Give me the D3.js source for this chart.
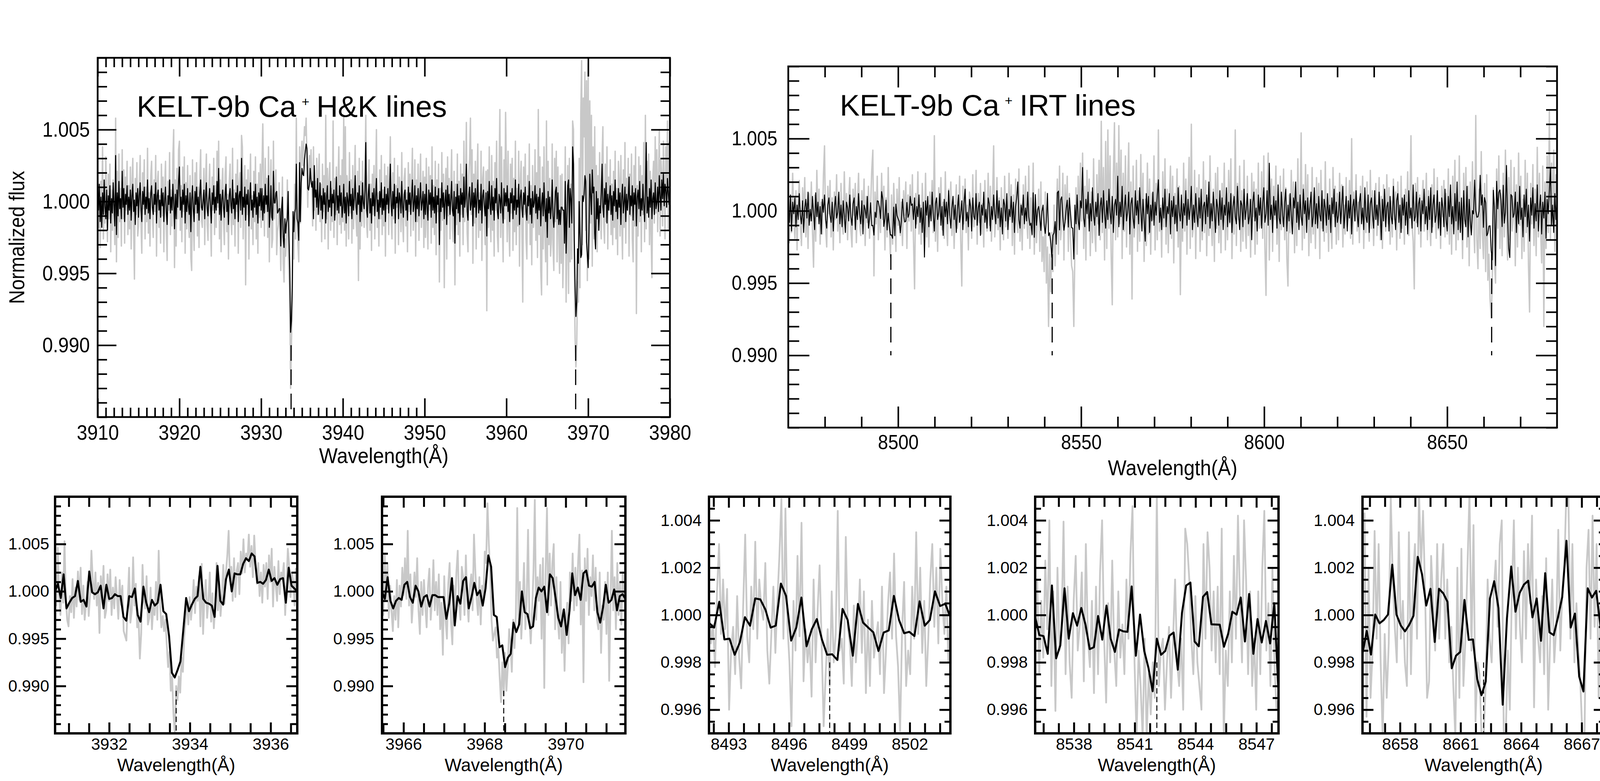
<!DOCTYPE html>
<html><head><meta charset="utf-8">
<script src="https://cdn.jsdelivr.net/npm/d3@7"></script>
<style>
body{margin:0;background:#fff}
svg{display:block}
text{font-family:"Liberation Sans",Arial,Helvetica,sans-serif;fill:#000}
</style></head>
<body><svg id="chart" width="4180" height="2000"></svg>
<script>
// ---------------- DATA (flux deviations from 1, in units of 1e-5) ----------------
const UNIT = 1e-5;
const hkLines = [3933.66, 3968.47];
const irtLines = [8498.02, 8542.09, 8662.14];

// H&K overview 3910-3980 A (evenly sampled over the span)
const hkBlack = [
90,-60,120,-140,30,-180,60,-90,150,-40,-120,80,-200,40,-60,110,-150,20,-80,130,
-30,-170,320,-230,60,-100,140,-50,20,-120,210,-40,90,-140,50,-20,110,-90,30,-60,
80,-130,40,120,-70,10,-160,60,-30,90,-110,40,130,-60,-140,70,-20,100,-90,30,
-50,150,-80,20,-120,60,110,-40,-90,50,-20,130,-150,40,80,-60,10,-110,90,-30,
60,-140,20,100,-70,-160,40,-20,150,-80,30,-60,120,-10,-190,50,-120,80,-40,140,
240,-60,30,-110,80,-20,120,-150,40,-70,90,-30,-90,60,-210,20,110,-50,-140,70,
-20,100,-80,30,-130,60,150,-40,-60,10,80,-120,40,130,-50,-100,20,90,-30,-150,
60,-20,110,-80,30,-60,140,-10,230,-90,50,-130,20,80,-40,-110,60,120,-70,10,
-160,40,90,-30,-80,150,-50,20,-120,60,-20,110,-140,40,70,-60,300,-90,30,-40,
100,-130,50,-20,80,-170,20,130,-60,10,-110,70,-40,120,-90,30,-150,60,-30,90,
-60,90,-130,40,-80,120,-20,
40,-70,180,-180,-70,110,-110,-130,210,-10,-10,60,70,-80,-70,-50,-50,-310,-50,30,
-250,-320,-120,-220,-150,-120,70,-240,-470,-910,-830,-600,-70,-210,-80,-50,260,-120,-150,-270,
270,-140,130,230,190,180,290,350,400,370,90,80,120,230,140,100,140,-120,250,30,
80,-40,160,-90,20,130,-60,40,-120,90,-20,60,-150,30,110,-70,10,-40,140,-100,
50,-10,80,-130,20,170,-60,40,-80,110,-30,60,-110,
-40,120,-80,30,-150,60,10,-100,140,-30,50,-120,90,-60,20,180,-40,-90,60,-20,
110,-140,40,-70,130,-10,-50,80,410,-60,-110,50,120,-80,20,-150,60,-30,90,-100,
40,160,-70,10,-120,70,-40,130,-90,20,-60,100,-140,50,-20,90,-80,40,260,-30,
-100,70,-50,120,-150,30,-10,90,-120,60,20,-80,140,-40,-110,50,80,-60,10,-130,
100,-20,60,-90,30,150,-70,-20,110,-140,40,-50,90,-100,20,130,-60,-10,70,-120,
50,-90,120,-40,-130,80,-20,60,-110,150,-60,30,-80,100,-150,40,-20,90,-300,20,
-70,130,-40,60,-120,10,80,-160,110,-30,50,-90,20,140,-60,-100,70,-290,30,-50,
120,-80,40,-140,90,-20,60,-110,170,-40,20,260,-70,-130,50,100,-60,-20,130,-170,
60,-40,90,-110,30,150,-80,10,-60,120,-150,40,80,-30,-100,60,-240,70,-50,140,
-20,-90,110,-60,30,-130,90,-10,160,-70,-120,50,20,-80,130,-40,-150,90,-30,60,
-30,110,-70,20,-140,60,-10,90,-120,40,-60,150,-90,10,-40,120,-160,30,80,-50,
-110,60,-20,100,-70,-130,40,-30,140,-90,20,-150,70,-40,-10,110,-80,50,-120,30,
-60,90,-170,-20,60,-100,130,-50,-140,20,-250,70,-80,30,-120,
-40,150,-100,-180,-70,70,100,-120,60,-160,-60,-160,-40,-40,-60,-60,-290,140,-360,-130,
110,150,-180,90,10,-150,380,260,-270,-590,-800,-700,-330,-430,0,-220,-390,-370,40,0,
50,180,140,-280,-370,
-460,-210,190,40,-90,220,60,100,-220,-330,70,-120,20,-200,-30,
-80,60,260,-40,-110,90,-20,130,-150,50,-60,20,110,-90,40,-130,70,-30,150,-70,
10,-120,90,-40,60,-160,30,120,-80,-10,100,-140,50,-60,20,170,-90,40,-30,110,
-130,60,-20,90,-170,30,80,-50,140,-100,20,-60,120,-30,-140,70,410,-80,30,-110,
90,-40,150,-120,20,60,-90,130,-50,-10,100,-70,180,40,-60,150,20,190,-30,120,
80,-40,160,60,-20,140
];
const hkGrey = [
250,-180,60,-320,140,-90,380,-260,30,-150,310,-40,-280,190,-120,260,-350,80,-200,150,
-60,-300,580,-420,210,-250,330,-140,90,-310,360,-120,220,-290,170,-60,280,-230,110,-190,
240,-330,120,300,-210,-540,160,-90,270,-240,-170,130,320,-150,-360,200,-50,290,-260,100,
-140,370,-220,60,-310,180,280,-110,-250,150,-70,320,-380,120,210,-180,40,-290,260,-100,
170,-350,90,280,-200,-410,140,-60,340,-230,80,-170,300,500,-460,150,-310,230,-120,360,
420,-200,110,-280,240,-70,310,-360,130,-190,250,-100,-250,180,-390,-480,290,-150,-340,200,
-80,270,-240,100,-320,170,360,-130,-180,60,230,-300,140,330,-160,-270,90,260,-120,-380,
170,-60,300,-230,110,-180,350,-40,420,-260,150,-350,80,230,-140,-300,190,310,-210,50,
-400,140,260,-100,-230,370,-160,80,-310,190,-70,290,-360,120,200,-180,460,380,-260,100,
250,-580,150,-90,220,-400,70,330,-190,40,-300,210,-140,310,-260,120,-360,200,-110,260,
-180,240,540,130,-240,300,-70,160,-250,380,-420,70,290,-320,-260,420,-120,80,220,-370,
-210,-160,130,-200,-480,-150,170,-430,-560,-260,-380,-240,150,-330,-520,-700,-1300,-1000,-700,-180,
-400,120,-260,580,-80,-300,-420,380,-150,330,420,250,380,520,460,580,300,-40,250,320,
180,360,120,-170,380,-60,140,-200,300,-90,170,330,-140,120,-280,260,-70,180,-260,600,
-120,230,-330,150,270,-200,90,-140,560,-250,160,-90,240,-300,120,380,-160,180,-220,290,
-140,600,-200,520,-310,180,90,-260,340,-80,150,-290,250,-190,130,390,-120,-240,210,-550,
300,-330,140,-170,280,-40,-180,200,600,-150,-250,170,290,-200,120,-340,190,-90,250,-260,
130,500,-180,60,-310,220,-120,320,-230,80,-170,260,-380,180,-50,240,-230,150,450,-110,
-260,200,-120,300,-360,110,-40,250,-300,170,90,-210,340,-130,-280,160,230,-170,60,-350,
270,-70,190,-240,110,370,-200,-60,290,-380,150,-140,260,-270,80,330,-180,-30,210,-320,
170,-250,300,-120,-330,240,-60,180,-290,380,-180,110,-230,280,-370,150,-70,260,-560,90,
-200,340,-130,190,-600,60,230,-400,310,-100,160,-260,90,360,-190,-280,210,-580,120,-160,
330,-230,140,-380,260,-90,190,-300,420,-140,80,550,-220,-350,180,300,580,-90,360,-430,
190,-150,280,-330,130,400,-250,60,-200,350,-410,160,240,-120,-300,210,-760,220,-180,380,
-90,-280,320,-200,140,-380,270,-60,420,-240,-350,190,640,-250,380,-140,-420,290,-120,620,
220,-280,350,-150,-380,260,-80,300,-340,160,-210,420,-300,90,-170,350,-450,140,280,-220,
-700,240,-90,330,-260,-400,180,-150,400,-300,110,-440,250,-180,-50,360,-270,200,-390,640,
-230,310,-480,-650,240,-330,380,-190,-420,560,-580,280,-300,160,-380,-260,400,-310,-480,300,
-140,350,-420,240,-200,-500,180,-430,190,-600,-320,-170,380,-700,-300,250,-640,300,-420,120,
-400,560,500,-480,-950,-1150,-1000,-560,-700,300,-600,620,980,-300,720,450,900,-200,840,-550,
960,-400,700,-150,600,-450,380,-260,520,-300,250,-350,180,-200,340,-120,-260,300,520,-150,
-290,260,-140,380,-330,170,-60,290,-230,120,-300,210,-180,350,-260,90,-370,280,140,-240,
320,-120,-400,220,-180,410,-290,160,-60,300,-380,190,-100,330,-260,-420,250,-170,380,-780,
110,-240,310,-140,250,-350,180,-90,410,-280,600,-190,280,-60,330,-300,210,-230,-530,160,
280,-150,450,-80,360,-210,130,500,-240,300,180,-170,420,120,-260,380,90,560,-200,410,
300
];

// IRT overview 8470-8680 A
const irtBlack = [
30,-80,110,-140,60,-20,90,-110,40,-60,120,-30,-90,70,-150,20,80,-50,130,-100,
10,-70,100,-20,-130,125,-40,60,-90,30,-160,80,-10,110,-60,-120,40,90,-30,-80,
60,-140,20,100,-50,-10,130,-90,40,-110,70,-30,-150,60,20,-70,110,-40,-100,50,
90,-130,30,-60,120,-20,-90,70,-160,40,10,-50,100,-120,
-53,56,-103,-100,-168,-9,-45,70,66,22,-53,133,81,-108,-53,74,-132,-17,-104,-168,
-166,-190,26,-172,47,-32,-53,-73,-152,-65,81,-21,-77,-71,58,-45,-21,100,38,48,
-60,90,-120,30,-40,110,-80,20,-150,60,-320,70,-30,100,-110,40,-70,130,-20,-140,
50,90,-60,-10,120,-100,30,-170,80,-40,60,-90,140,-30,-120,20,100,-60,40,-150,
10,110,-80,-20,70,-130,50,150,-70,-10,-110,80,30,-140,90,-40,-60,120,-100,20,
60,-170,40,-30,130,-80,10,-120,90,50,-140,30,-60,110,-20,-90,140,-50,70,-110,
20,-160,80,40,-70,120,-130,10,-40,100,-80,60,-150,30,90,200,-60,-120,40,-30,
110,-90,20,-70,130,-40,-100,
-85,-164,125,-183,113,-100,8,30,-41,-136,-4,40,-100,-156,-69,121,-172,-152,-223,-322,
-168,-152,-74,-231,125,137,-132,77,97,-40,-134,-79,14,74,-112,89,-17,-116,-120,-334,
40,-90,110,-60,-130,70,20,300,-50,-110,80,-20,130,-140,50,-70,160,-30,-100,60,
-40,120,-170,30,90,-80,140,-20,-120,70,-60,150,-10,-90,100,-150,40,80,-30,240,
-110,60,-40,170,-130,20,110,-70,-10,130,-160,50,90,-50,-120,140,-30,70,-90,160,
10,-140,80,-60,-210,120,-20,100,-150,40,-70,130,-100,60,-30,110,215,-80,20,-130,
90,-50,150,-110,30,-20,120,-160,70,-40,100,-90,40,-140,160,-10,-70,110,-120,50,
-30,140,-100,80,-60,20,170,-130,40,-80,120,-20,-110,90,-50,150,-140,30,60,-90,
110,-40,200,-120,50,-70,130,-10,-150,80,20,-100,140,-60,90,-130,40,-30,160,-110,
60,-80,120,-150,30,100,-40,-90,170,-20,-130,70,40,-110,150,-60,10,120,-90,-40,
80,-200,60,130,-70,20,-140,110,-30,90,-120,50,160,-80,-20,140,-100,330,-60,40,
-150,100,-30,70,-120,180,-50,-90,130,-10,-110,60,150,-140,40,-70,120,-30,-160,90,
20,200,-80,60,-130,110,-40,-100,150,-20,70,-150,90,-60,30,130,-110,-40,160,-90,
50,-120,100,-30,-70,140,-140,80,20,-100,120,-60,40,-150,90,-20,150,-110,60,-80,
-30,130,-90,40,170,-120,-10,100,-140,70,-50,110,-160,30,80,-70,140,-20,-110,60,
120,-90,20,-130,160,-40,-80,110,-150,50,90,-30,-120,140,-60,40,-100,130,-10,-200,
80,-70,150,-110,30,60,-140,100,-40,-90,170,-20,-130,70,120,-80,40,-150,90,-30,
110,-100,60,-160,140,-50,20,-120,180,-70,-40,130,-110,50,90,-140,70,-20,150,-90,
30,-130,100,-60,160,-150,40,110,-80,-30,140,-120,60,-170,90,20,-110,150,-60,-140,
100,-40,180,-90,30,-160,120,-70,200,-130,60,-150,90,-200,140,-60,-110,170,-180,80,
-67,-167,2,-21,213,2,-44,-41,-3,246,40,111,-114,92,56,-172,-156,-105,-103,-271,
-339,143,30,-379,205,14,129,145,70,-109,177,-85,-10,314,-53,-260,-323,113,102,-45,
-20,130,-150,60,-90,170,-60,20,-180,110,-40,150,-110,40,-210,90,-30,160,-120,50,
-70,180,-140,20,110,-160,60,-50,130,-190,80,-20,140,300,-100,40,-150,120,-60,90
];
const irtGrey = [
180,-220,90,-150,260,-60,-190,140,-270,70,210,-100,-240,160,-30,230,-180,50,-260,120,
-70,200,-130,-390,110,-210,280,-40,150,-230,60,-160,240,450,-120,-250,170,-20,210,-180,
90,-270,130,-60,250,-140,30,-220,190,-90,-160,270,-40,120,-200,80,230,-130,-250,150,
-30,190,-220,60,260,-110,-170,140,-40,220,-240,100,-80,170,-190,40,280,420,-450,130,
-90,240,-200,30,-150,260,-60,170,-270,90,-180,300,-120,-320,110,-230,190,-40,-280,150,
-100,230,-170,60,-240,140,-30,200,-260,110,-70,180,-140,250,-200,-540,120,-90,270,-160,
40,-230,190,-60,-120,260,-180,70,-250,130,-20,210,-150,520,-210,90,-280,160,-40,230,
-130,60,-190,270,-80,-240,150,-30,200,-170,100,-260,30,180,-120,-60,240,-200,-520,170,
-90,220,-150,40,-270,130,70,-190,250,-110,-40,280,-230,120,-80,190,-160,50,-250,210,
-20,-140,260,-100,170,-210,80,450,-180,-60,230,-130,90,-270,160,-40,-200,240,-110,70,
-190,260,-60,180,-240,110,-300,220,-80,-150,290,-210,50,-270,180,-120,240,-30,-190,310,
-260,90,-170,330,-300,60,-220,-30,150,-280,200,-350,-180,-420,130,-500,-250,-800,-300,-560,
-150,-420,40,-380,-100,220,-300,310,-200,-90,260,-340,180,-60,240,-280,120,-190,-380,-420,
-800,-250,160,-300,240,-120,330,-70,400,-260,170,-340,280,-50,220,-310,130,-220,360,-140,
-280,250,-90,350,-200,620,-150,300,-340,480,-260,560,-120,380,-300,-650,240,610,-200,330,
-180,590,-90,420,-330,260,-140,380,-250,150,470,-300,200,-610,310,-180,-70,350,-280,140,
-210,390,-120,260,-350,80,-240,330,-160,220,-300,120,-60,380,-270,190,-200,560,-140,40,
-320,270,-110,360,-230,150,-290,80,310,-190,240,-360,120,-80,290,-250,170,-580,60,-210,
330,-140,220,-300,100,370,-260,600,-180,-90,280,-330,160,-40,250,-280,70,-200,340,-150,
210,-310,90,-170,380,-60,-240,150,-350,260,-120,300,-220,40,-290,190,-80,330,-270,120,
-200,280,-90,360,-330,110,-160,560,-240,190,-60,310,-280,140,-210,350,-100,-260,240,-170,
80,-320,260,-40,200,-300,150,-230,330,-120,-90,270,-190,380,-250,-585,120,400,-340,60,
220,-280,170,-60,310,-230,90,-350,240,-130,-40,290,-200,160,-330,-520,110,-150,280,-70,
200,-290,130,-240,360,-110,-30,540,-270,180,-190,320,-90,250,-310,70,-220,300,-160,140,
-260,230,-50,190,-330,280,-120,80,-210,340,-150,60,-280,220,-100,-260,300,-40,170,-230,
120,-200,260,-80,180,-250,40,-160,230,-110,-40,210,-190,500,-230,130,-70,250,-140,60,
-220,170,-30,240,-260,90,-150,200,-60,-210,280,-120,140,-240,60,190,-170,-50,230,-200,
100,-260,180,-30,-140,250,-90,160,-230,70,-180,220,-60,130,-270,200,-20,-190,240,-120,
80,-230,150,-60,270,-170,40,520,-100,-210,-540,190,-80,230,-160,110,-250,60,210,-140,
-30,260,-200,140,-70,-240,180,-110,290,-50,-190,230,-130,60,-260,170,-40,210,-180,120,
-160,290,-230,110,-300,240,-60,350,-270,130,-200,380,-140,60,-330,260,-90,300,-250,170,
-380,200,-120,340,-60,-290,660,-200,-400,150,-260,410,-150,-330,190,-420,250,-480,-300,-610,
-740,-520,160,-350,-500,290,-120,380,-260,120,-310,260,-180,420,-90,-340,230,-200,350,-140,
-60,300,-380,180,-250,400,-100,240,-330,80,-280,350,-150,260,-370,-700,190,-90,320,-240,
150,-310,440,-180,260,-120,-360,310,-800,200,-260,380,-150,690,-200,330,-90,420,-280,250,
160
];

// Zoomed windows (evenly sampled over each panel's wavelength window)
const kZoomBlack = [0,80,-70,180,-180,-120,-70,-50,110,-110,-90,-160,210,-10,-30,-10,60,-180,70,-80,
-70,-30,-50,-50,-270,-310,-50,-60,30,-250,-320,50,-120,-220,-90,-150,-120,70,-210,-240,
-470,-860,-910,-830,-740,-410,-70,-210,-140,-80,-50,260,-80,-120,-130,-150,-270,270,-100,-140,
130,230,0,190,180,180,290,350,320,400,370,90,100,80,120,230,110,140,70,130,
140,-120,250,60,30,0];
const kZoomGrey = [350,-150,460,-60,-250,200,-120,530,-80,-300,-370,-50,-220,130,-280,40,-160,210,-90,250,
-240,60,-300,-130,100,-260,-40,430,120,-80,200,-150,90,-440,160,-60,270,-280,-200,180,
-100,230,-250,40,-180,150,-60,-290,120,-140,60,-420,-470,-520,-100,250,-330,-200,360,-150,
80,-380,-260,-710,-450,280,-90,-180,160,-350,-280,40,-400,-150,-250,100,-300,430,-120,-380,
-260,-420,-300,-560,-800,-640,-1050,-900,-1300,-1500,-1000,-1150,-900,-1070,-700,-850,-480,-300,-120,-350,
-60,-300,-140,120,-230,50,-100,160,-370,290,-450,-60,120,-280,-100,200,-320,-20,-390,-150,
300,-200,100,-260,-50,280,-130,200,380,640,110,260,-100,350,-60,220,300,-30,420,190,
550,200,400,330,600,260,480,150,590,300,80,300,-50,200,-120,280,50,300,-80,380,
100,450,-160,260,60,-100,320,-30,200,140,300,-250,80,450,260,-60,200,110,-150,240,40];
const hZoomBlack = [0,-80,150,-100,-180,-100,-70,-90,70,100,-60,-120,60,0,-160,-60,-40,-160,-40,-40,
-60,-60,-60,-290,-130,140,-360,-50,-130,110,150,-180,-60,90,-40,10,-150,30,380,260,
-250,-270,-590,-570,-800,-700,-660,-330,-430,-350,0,-220,-240,-390,-370,-70,40,0,50,-220,
180,140,-60,-280,-370,-190,-460,-210,190,-40,40,-90,190,220,60,50,100,-220,-330,-170,
70,-120,-90,20,-200,-50,-30,-80];
const hZoomGrey = [200,-250,380,-100,300,-280,60,-200,-420,-50,-300,120,-380,60,-160,250,-40,350,-80,640,
-150,180,-330,-100,200,-60,350,-200,-450,100,-250,120,-150,-380,50,240,-300,-80,330,-200,
100,-250,180,-400,-120,-670,160,-300,-500,80,300,-320,-560,60,-200,200,430,-150,-300,260,
150,-250,380,-100,-320,50,180,-200,600,220,-80,-250,150,-350,60,-100,420,300,930,500,
200,-300,-520,-450,-380,-700,-600,-900,-1170,-750,-1100,-650,-1050,-800,-400,-550,-850,-300,-600,-250,
880,-350,100,-500,-150,300,-400,-80,650,-300,-550,-200,200,966,-300,150,-100,280,-500,350,
-1020,200,880,-250,400,-150,300,500,-400,150,-300,-500,100,-650,-200,-840,-300,-120,-550,200,
-100,400,-200,250,-150,300,600,-350,220,-960,350,-100,450,-250,150,-50,380,-200,250,-300,
-400,200,-650,-150,-300,100,-450,200,-945,-100,640,-200,150,-400,300,-250,100,-350,200,-100,50];
const ir1Black = [-33,-53,56,-103,-100,-168,-116,-9,-45,70,66,22,-53,-45,133,81,-108,-53,74,-132,
-61,-17,-104,-168,-166,-190,26,-21,-172,47,-32,-53,-73,-152,-74,-65,81,-21,-77,-71,
-89,58,-45,-21,100,38,48,-9];
const ir1Grey = [60,-120,-40,-220,100,300,-80,150,-60,110,-400,-150,-50,-250,80,-180,-310,40,340,-90,
-200,120,-60,310,-100,150,30,-20,220,-150,-290,-80,120,-160,60,250,490,-100,450,-40,
-200,-470,60,-150,250,-90,390,-280,-60,-200,-100,-345,150,-200,20,210,-120,-470,-250,-60,
-300,100,-200,-80,440,-150,-100,-290,330,-50,-120,-300,40,-200,-80,150,-160,100,-330,-20,
-300,60,-180,-100,-30,-250,120,-330,-150,50,180,-100,260,-90,-220,-490,-60,140,-300,-150,
-250,120,-100,350,-80,200,-160,60,-300,-100,150,300,-50,200,-120,280,60,-80,120,-200,30];
const ir2Black = [-9,-85,-89,-164,125,-183,-128,113,-100,8,-45,30,-41,-144,-136,-4,-104,40,-100,-156,
-61,-69,-71,121,-172,2,-152,-223,-322,-100,-168,-152,-87,-74,-231,10,125,137,-112,-132,
77,97,-39,-40,-41,-134,-79,14,2,74,-112,89,-164,-17,-116,-25,-120,50,-334];
const ir2Grey = [-100,150,-250,60,-180,230,-60,400,-300,100,-405,200,-150,-60,395,-250,120,-200,-350,60,
250,-150,-40,180,-280,300,-100,-220,60,-330,120,-250,180,400,-100,-370,50,-200,230,-150,
-300,100,-180,-40,-250,150,-100,260,460,-200,-520,-150,-300,-520,-100,-520,-250,-420,-200,-350,
520,-300,-150,-100,-400,-200,-50,-350,-100,150,-200,-300,-100,-400,365,300,150,-100,-250,80,
-200,-300,-400,300,-100,350,200,-150,100,-200,120,-250,365,-520,-150,-300,100,-200,250,-100,
420,60,-200,400,150,-250,100,-300,-100,-400,100,-250,200,440,-150,50,-300,200,-200,-400,-350];
const ir3Black = [-164,-67,-167,2,-35,-21,2,213,2,-44,-69,-41,-3,246,173,40,111,-114,111,92,
56,-225,-172,-156,64,-105,-103,-271,-339,-281,70,143,30,-379,-13,205,14,94,129,145,
-10,70,-109,177,-73,-85,-10,76,314,-53,6,-260,-323,113,74,102,-45,-29];
const ir3Grey = [-290,430,-430,200,-350,-150,355,-100,300,-200,-520,-80,-350,-120,500,150,-50,-200,350,-100,
60,-200,-300,350,-250,150,300,-100,520,200,440,100,-350,-280,250,50,-150,300,-100,150,
300,-100,150,-200,-50,-300,-520,200,-350,280,-300,-100,200,520,-150,380,-450,-200,-250,-520,
-520,-300,150,-100,-200,100,230,-50,300,400,-520,-500,-150,-400,100,400,-100,200,-50,-200,
270,-100,300,50,420,-390,150,-100,-200,80,-250,240,-400,-100,150,-200,-50,360,-150,100,
200,520,520,-100,300,-200,50,-150,-300,-520,-520,200,360,-100,420,-50,300,-350,80,-200,50];

// Tick labels
const hkTicksX = [3910,3920,3930,3940,3950,3960,3970,3980];
const irtTicksX = [8500,8550,8600,8650];
const kTicksX = [3932,3934,3936];
const hTicksX = [3966,3968,3970];
const ir1TicksX = [8493,8496,8499,8502];
const ir2TicksX = [8538,8541,8544,8547];
const ir3TicksX = [8658,8661,8664,8667];
const fluxTicksWide = [0.990,0.995,1.000,1.005];
const fluxTicksNarrow = [0.996,0.998,1.000,1.002,1.004];

// ---------------- DRAWING ----------------
const svg = d3.select('#chart');
const GREY = '#c8c8c8';
const near = (a,b)=>Math.abs(a-b)<1e-7;
const minorList = (vals, majors)=>vals.filter(v=>!majors.some(m=>near(m,v)));
const yMinorWide = minorList(d3.range(985,1011).map(v=>v/1000), fluxTicksWide);
const yMinorNarrow = minorList(d3.range(1990,2011).map(v=>v/2000), fluxTicksNarrow);
const stepMinor = (anchor, step, lo, hi, majors)=>{
  const out=[]; for(let k=-40;k<=40;k++){const v=anchor+k*step; if(v>lo+1e-6&&v<hi-1e-6) out.push(+v.toFixed(4));}
  return minorList(out, majors);
};

const topStyle = {grey:3.6, black:2.7, frame:4.5, tickW:4, font:54, sx:0.9, dash:'40,22', dashW:3};
const botStyle = {grey:4.5, black:5, frame:6, tickW:5, font:42, sx:1, dash:'14,8', dashW:2.5};

const panels = [
 {key:'hk', box:[250,148,1715,1068], xDomain:[3910,3980], yDomain:[0.985,1.010], black:hkBlack, grey:hkGrey,
  lines:hkLines, dash:[0.985,0.990], xMajor:hkTicksX, xMinor:stepMinor(3910,1,3910,3980,hkTicksX),
  yMajor:fluxTicksWide, yMinor:yMinorWide, s:topStyle, len:{xM:48,xm:24,yM:48,ym:24}, pad:{x:20,y:20}, title:{y:1186,size:56}},
 {key:'irt', box:[2018,170,3986,1095], xDomain:[8470,8680], yDomain:[0.985,1.010], black:irtBlack, grey:irtGrey,
  lines:irtLines, dash:[0.990,0.997], xMajor:irtTicksX, xMinor:stepMinor(8470,10,8470,8680,irtTicksX),
  yMajor:fluxTicksWide, yMinor:yMinorWide, s:Object.assign({},topStyle,{font:52,black:2.4}), len:{xM:54,xm:28,yM:54,ym:28}, pad:{x:18,y:28}, title:{y:1217,size:56}},
 {key:'k', box:[141,1272,761,1878], xDomain:[3930.66,3936.66], yDomain:[0.985,1.010], black:kZoomBlack, grey:kZoomGrey,
  lines:[hkLines[0]], dash:[0.985,0.9895], xMajor:kTicksX, xMinor:stepMinor(3932,0.5,3930.66,3936.66,kTicksX),
  yMajor:fluxTicksWide, yMinor:yMinorWide, s:botStyle, len:{xM:28,xm:26,yM:28,ym:15}, pad:{x:12,y:15}, title:{y:1975,size:46}},
 {key:'h', box:[978,1272,1601,1878], xDomain:[3965.47,3971.47], yDomain:[0.985,1.010], black:hZoomBlack, grey:hZoomGrey,
  lines:[hkLines[1]], dash:[0.985,0.9895], xMajor:hTicksX, xMinor:stepMinor(3966,0.5,3965.47,3971.47,hTicksX),
  yMajor:fluxTicksWide, yMinor:yMinorWide, s:botStyle, len:{xM:28,xm:26,yM:28,ym:15}, pad:{x:12,y:20}, title:{y:1975,size:46}},
 {key:'ir1', box:[1815,1272,2433,1878], xDomain:[8492.02,8504.02], yDomain:[0.995,1.005], black:ir1Black, grey:ir1Grey,
  lines:[irtLines[0]], dash:[0.995,0.998], xMajor:ir1TicksX, xMinor:stepMinor(8493,0.75,8492.02,8504.02,ir1TicksX),
  yMajor:fluxTicksNarrow, yMinor:yMinorNarrow, s:botStyle, len:{xM:28,xm:26,yM:28,ym:15}, pad:{x:12,y:19}, title:{y:1975,size:46}},
 {key:'ir2', box:[2650,1272,3273,1878], xDomain:[8536.09,8548.09], yDomain:[0.995,1.005], black:ir2Black, grey:ir2Grey,
  lines:[irtLines[1]], dash:[0.995,0.998], xMajor:ir2TicksX, xMinor:stepMinor(8538,0.75,8536.09,8548.09,ir2TicksX),
  yMajor:fluxTicksNarrow, yMinor:yMinorNarrow, s:botStyle, len:{xM:28,xm:26,yM:28,ym:15}, pad:{x:12,y:19}, title:{y:1975,size:46}},
 {key:'ir3', box:[3488,1272,4108,1878], xDomain:[8656.14,8668.14], yDomain:[0.995,1.005], black:ir3Black, grey:ir3Grey,
  lines:[irtLines[2]], dash:[0.995,0.998], xMajor:ir3TicksX, xMinor:stepMinor(8658,0.75,8656.14,8668.14,ir3TicksX),
  yMajor:fluxTicksNarrow, yMinor:yMinorNarrow, s:botStyle, len:{xM:28,xm:26,yM:28,ym:15}, pad:{x:12,y:20}, title:{y:1975,size:46}}
];

function styleAxis(sel, p, withText){
  sel.select('.domain').remove();
  sel.attr('font-family',null).attr('font-size',p.s.font);
  sel.selectAll('line').attr('stroke','#000').attr('stroke-width',p.s.tickW);
  if(withText) sel.selectAll('text').attr('fill','#000').attr('transform',`scale(${p.s.sx},1)`);
}

function drawPanel(p){
  const [bx0,by0,bx1,by1]=p.box; const w=bx1-bx0, h=by1-by0;
  const g=svg.append('g').attr('transform',`translate(${bx0},${by0})`);
  const x=d3.scaleLinear().domain(p.xDomain).range([0,w]);
  const y=d3.scaleLinear().domain(p.yDomain).range([h,0]);
  g.append('clipPath').attr('id','clip-'+p.key).append('rect').attr('width',w).attr('height',h);
  const plot=g.append('g').attr('clip-path',`url(#clip-${p.key})`);
  const pts=arr=>arr.map((v,i)=>[p.xDomain[0]+i*(p.xDomain[1]-p.xDomain[0])/(arr.length-1), 1+v*UNIT]);
  const line=d3.line().x(d=>x(d[0])).y(d=>y(d[1]));
  plot.append('path').datum(pts(p.grey)).attr('d',line).attr('fill','none')
    .attr('stroke',GREY).attr('stroke-width',p.s.grey).attr('stroke-linejoin','round');
  plot.selectAll('line.core').data(p.lines).join('line').attr('class','core')
    .attr('x1',d=>x(d)).attr('x2',d=>x(d)).attr('y1',y(p.dash[1])).attr('y2',y(p.dash[0]))
    .attr('stroke','#000').attr('stroke-width',p.s.dashW).attr('stroke-dasharray',p.s.dash);
  plot.append('path').datum(pts(p.black)).attr('d',line).attr('fill','none')
    .attr('stroke','#000').attr('stroke-width',p.s.black).attr('stroke-linejoin','round');
  g.append('rect').attr('width',w).attr('height',h).attr('fill','none')
    .attr('stroke','#000').attr('stroke-width',p.s.frame);
  const sx=p.s.sx;
  g.append('g').attr('transform',`translate(0,${h})`)
    .call(d3.axisBottom(x).tickValues(p.xMajor).tickSize(-p.len.xM).tickPadding(p.pad.x).tickFormat(d3.format('d')))
    .call(s=>styleAxis(s,p,true));
  g.append('g').attr('transform',`translate(0,${h})`)
    .call(d3.axisBottom(x).tickValues(p.xMinor).tickSize(-p.len.xm).tickFormat(''))
    .call(s=>styleAxis(s,p,false));
  g.append('g').call(d3.axisTop(x).tickValues(p.xMajor).tickSize(-p.len.xM).tickFormat('')).call(s=>styleAxis(s,p,false));
  g.append('g').call(d3.axisTop(x).tickValues(p.xMinor).tickSize(-p.len.xm).tickFormat('')).call(s=>styleAxis(s,p,false));
  g.append('g')
    .call(d3.axisLeft(y).tickValues(p.yMajor).tickSize(-p.len.yM).tickPadding(p.pad.y/sx).tickFormat(d3.format('.3f')))
    .call(s=>styleAxis(s,p,true));
  g.append('g').call(d3.axisLeft(y).tickValues(p.yMinor).tickSize(-p.len.ym).tickFormat('')).call(s=>styleAxis(s,p,false));
  g.append('g').attr('transform',`translate(${w},0)`)
    .call(d3.axisRight(y).tickValues(p.yMajor).tickSize(-p.len.yM).tickFormat('')).call(s=>styleAxis(s,p,false));
  g.append('g').attr('transform',`translate(${w},0)`)
    .call(d3.axisRight(y).tickValues(p.yMinor).tickSize(-p.len.ym).tickFormat('')).call(s=>styleAxis(s,p,false));
  svg.append('text').attr('transform',`translate(${(bx0+bx1)/2},${p.title.y}) scale(${sx},1)`)
    .attr('text-anchor','middle').attr('font-size',p.title.size).text('Wavelength(\u00C5)');
}
panels.forEach(drawPanel);

svg.append('text').attr('transform','translate(62,608) rotate(-90) scale(0.9,1)')
  .attr('text-anchor','middle').attr('font-size',55).text('Normalized flux');

function panelTitle(x0, y0, rest){
  const t=svg.append('text').attr('transform',`translate(${x0},${y0})`).attr('font-size',76);
  t.append('tspan').text('KELT-9b Ca');
  t.append('tspan').attr('font-size',34).attr('dx',14).attr('dy',-27).text('+');
  t.append('tspan').attr('dy',27).attr('dx',18).text(rest);
}
panelTitle(350, 299, 'H&K lines');
panelTitle(2150, 296, 'IRT lines');
</script>
</body></html>
